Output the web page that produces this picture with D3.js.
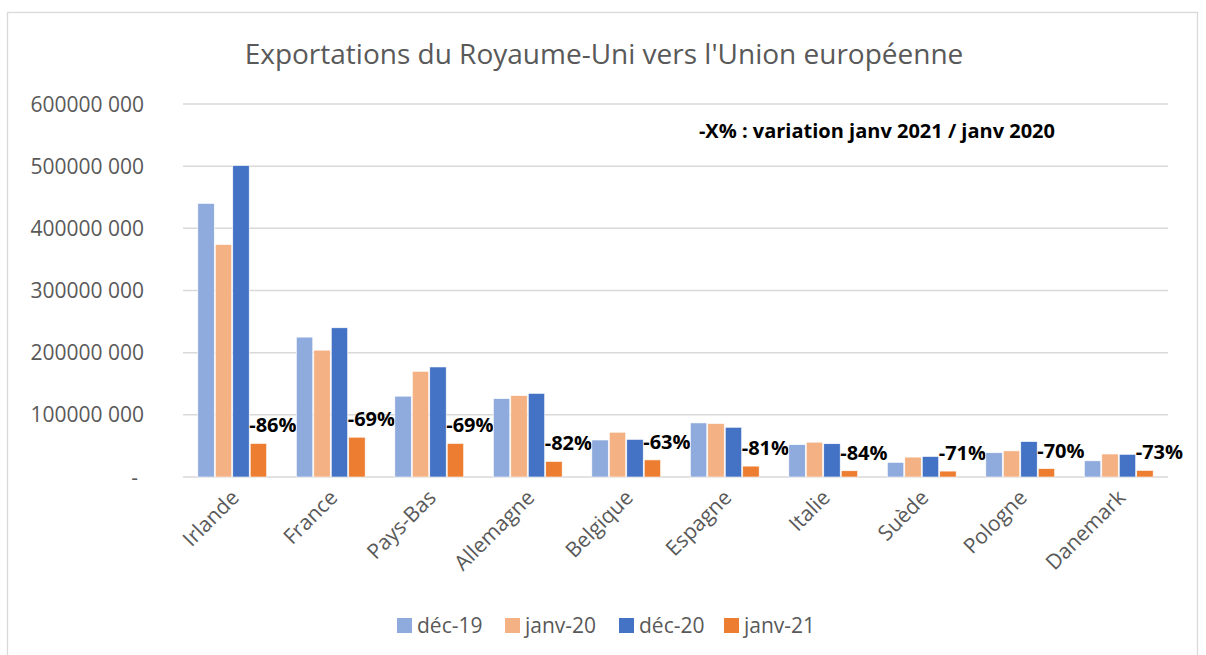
<!DOCTYPE html>
<html>
<head>
<meta charset="utf-8">
<script src="https://cdn.jsdelivr.net/npm/d3@7"></script>
<style>
    body { margin: 0; background: #fff; }
    svg { display: block; font-family: "Open Sans", sans-serif; }
</style>
</head>
<body>
<svg id="chart" width="1206" height="655"></svg>
<script>
// pays (ordre du graphique)
var categories = ["Irlande", "France", "Pays-Bas", "Allemagne", "Belgique", "Espagne", "Italie", "Suède", "Pologne", "Danemark"];
var seriesNames = ["déc-19", "janv-20", "déc-20", "janv-21"];
var seriesColors = ["#8FAADC", "#F4B183", "#4472C4", "#ED7D31"];

// valeurs (en millions)
var dec19 = [440, 225, 130, 126, 59.5, 87, 52, 23.5, 39, 26];
var janv20 = [374, 204, 170, 131, 72, 86, 56, 32, 42, 37];
var dec20 = [501, 240, 177, 134.5, 60.5, 80, 53.5, 33, 57, 36.5];
var janv21 = [54, 64, 54, 25, 27.5, 17.5, 10, 9.5, 13.5, 10.5];

// variation janv 2021 / janv 2020
var variations = ["-86%", "-69%", "-69%", "-82%", "-63%", "-81%", "-84%", "-71%", "-70%", "-73%"];

var yTicks = [0, 100e6, 200e6, 300e6, 400e6, 500e6, 600e6];
var yTickLabels = ["-", "100000 000", "200000 000", "300000 000", "400000 000", "500000 000", "600000 000"];

var title = "Exportations du Royaume-Uni vers l'Union européenne";
var note = "-X% : variation janv 2021 / janv 2020";

var series = [dec19, janv20, dec20, janv21];
var data = categories.map(function(c, i) {
    return {
        name: c,
        values: series.map(function(s, k) { return { key: k, value: s[i] * 1e6 }; })
    };
});

var svg = d3.select("#chart");

var plot = { left: 183, right: 1168, top: 104, bottom: 477 };

// cadre du graphique
svg.append("rect")
    .attr("x", 7.5).attr("y", 12.5)
    .attr("width", 1190).attr("height", 700)
    .style("fill", "#fff")
    .style("stroke", "#D9D9D9")
    .style("stroke-width", 1.3);

var x0 = d3.scaleBand()
    .domain(categories)
    .range([plot.left, plot.right])
    .paddingInner(0.28)
    .paddingOuter(0.14);

var x1 = d3.scaleBand()
    .domain(d3.range(seriesNames.length))
    .range([0, x0.bandwidth()])
    .padding(0.06);

var y = d3.scaleLinear()
    .domain([0, 600e6])
    .range([plot.bottom, plot.top]);

// grille
svg.append("g")
    .selectAll("line")
    .data(yTicks)
    .join("line")
    .attr("x1", plot.left).attr("x2", plot.right)
    .attr("y1", function(d) { return y(d); })
    .attr("y2", function(d) { return y(d); })
    .style("stroke", "#D9D9D9")
    .style("stroke-width", 1.5);

// axe y
var yAxis = svg.append("g")
    .attr("transform", "translate(144,0)")
    .call(d3.axisLeft(y).tickValues(yTicks).tickSize(0).tickPadding(0)
        .tickFormat(function(d, i) { return yTickLabels[i]; }));
yAxis.attr("font-family", null);
yAxis.select(".domain").remove();
yAxis.selectAll("text")
    .style("font-size", "21px")
    .style("fill", "#595959")
    .attr("dy", "0.34em");
yAxis.selectAll("text").filter(function(d) { return d === 0; })
    .attr("dx", "-6px");

// barres
var groups = svg.append("g")
    .selectAll("g")
    .data(data)
    .join("g")
    .attr("transform", function(d) { return "translate(" + x0(d.name) + ",0)"; });

groups.selectAll("rect")
    .data(function(d) { return d.values; })
    .join("rect")
    .attr("x", function(d) { return x1(d.key); })
    .attr("y", function(d) { return y(d.value); })
    .attr("width", x1.bandwidth())
    .attr("height", function(d) { return y(0) - y(d.value); })
    .style("fill", function(d) { return seriesColors[d.key]; })
    .style("stroke", "#fff")
    .style("stroke-width", 0.6);

// étiquettes de variation
groups.append("text")
    .attr("x", function(d) { return x1(3) - 1; })
    .attr("y", function(d) { return y(d.values[3].value) - 11; })
    .text(function(d, i) { return variations[i]; })
    .style("font-size", "20px")
    .style("font-weight", "bold")
    .style("fill", "#000");

// axe x (étiquettes inclinées)
var xAxis = svg.append("g")
    .attr("transform", "translate(0," + plot.bottom + ")")
    .call(d3.axisBottom(x0).tickSize(0).tickPadding(0));
xAxis.attr("font-family", null);
xAxis.select(".domain").remove();
xAxis.selectAll("text")
    .style("font-size", "21px")
    .style("fill", "#595959")
    .attr("text-anchor", "end")
    .attr("dy", "0")
    .attr("transform", "translate(8,22) rotate(-45)");

// titre
svg.append("text")
    .attr("x", 604).attr("y", 64)
    .attr("text-anchor", "middle")
    .text(title)
    .style("font-size", "28px")
    .style("fill", "#595959");

svg.append("text")
    .attr("x", 1055).attr("y", 138)
    .attr("text-anchor", "end")
    .text(note)
    .style("font-size", "20px")
    .style("font-weight", "bold")
    .style("fill", "#000");

// légende
var legendX = [397, 505, 619, 724];
var legend = svg.append("g")
    .selectAll("g")
    .data(seriesNames)
    .join("g")
    .attr("transform", function(d, i) { return "translate(" + legendX[i] + ",618)"; });

legend.append("rect")
    .attr("width", 15).attr("height", 15)
    .style("fill", function(d, i) { return seriesColors[i]; });

legend.append("text")
    .attr("x", 20).attr("y", 15)
    .text(function(d) { return d; })
    .style("font-size", "21px")
    .style("fill", "#595959");
</script>
</body>
</html>
